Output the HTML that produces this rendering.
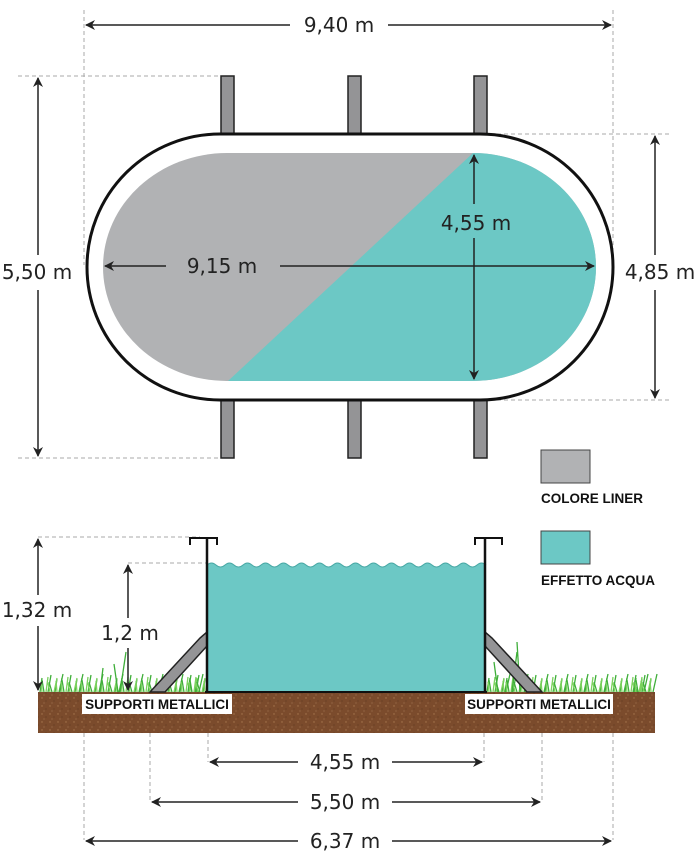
<!DOCTYPE html>
<html><head><meta charset="utf-8"><style>
html,body{margin:0;padding:0;background:#fff;}
svg{display:block;}
.t{font-family:"DejaVu Sans","Liberation Sans",sans-serif;font-size:20px;fill:#222;}
.b{font-family:"Liberation Sans",sans-serif;font-size:13.5px;font-weight:bold;fill:#111;}
</style></head><body>
<svg width="700" height="858" viewBox="0 0 700 858" xmlns="http://www.w3.org/2000/svg">
<defs>
<marker id="a" viewBox="0 0 10 10" refX="9" refY="5" markerWidth="10" markerHeight="10" markerUnits="userSpaceOnUse" orient="auto-start-reverse">
<path d="M0,0 L10,5 L0,10 L3,5 Z" fill="#222"/></marker>
<pattern id="soil" width="8" height="8" patternUnits="userSpaceOnUse">
<rect width="8" height="8" fill="#7b4b2c"/><circle cx="2" cy="2" r="0.7" fill="#a8784f"/><circle cx="6" cy="5" r="0.6" fill="#5e3720"/><circle cx="4" cy="7" r="0.5" fill="#b08660"/></pattern>
<g id="grass" fill="none" stroke-width="1.3">
<path stroke="#3fae3a" d="M0,20 l2,-14 M4,20 l-2,-12 M8,20 l3,-17 M12,20 l-3,-10 M15,20 l2,-13 M19,20 l4,-18"/>
<path stroke="#7bd25e" d="M2,20 l-1,-10 M6,20 l2,-15 M10,20 l-2,-9 M14,20 l3,-14 M17,20 l-1,-11"/>
</g>
</defs>
<g stroke="#aaa" stroke-width="1" stroke-dasharray="4,3" fill="none">
<line x1="84" y1="10" x2="84" y2="265"/><line x1="613" y1="10" x2="613" y2="265"/>
<line x1="18" y1="76" x2="222" y2="76"/><line x1="18" y1="458" x2="222" y2="458"/>
<line x1="490" y1="134" x2="672" y2="134"/><line x1="490" y1="400" x2="672" y2="400"/>
<line x1="38" y1="537" x2="200" y2="537"/><line x1="128" y1="563" x2="207" y2="563"/>
<line x1="84" y1="733" x2="84" y2="840"/><line x1="613" y1="733" x2="613" y2="840"/>
<line x1="150" y1="733" x2="150" y2="802"/><line x1="542" y1="733" x2="542" y2="802"/>
<line x1="208" y1="733" x2="208" y2="762"/><line x1="484" y1="733" x2="484" y2="762"/>
</g>
<g fill="#949496" stroke="#222" stroke-width="1.5">
<rect x="221" y="76" width="13" height="60"/><rect x="348" y="76" width="13" height="60"/><rect x="474" y="76" width="13" height="60"/>
<rect x="221" y="398" width="13" height="60"/><rect x="348" y="398" width="13" height="60"/><rect x="474" y="398" width="13" height="60"/>
</g>
<path d="M220,134 L480,134 A133,133 0 0 1 480,400 L220,400 A133,133 0 0 1 220,134 Z" fill="#fff" stroke="#111" stroke-width="3"/>
<path d="M227,153 L473,153 A123,114 0 0 1 473,381 L227,381 A124,114 0 0 1 227,153 Z" fill="#b1b2b4"/>
<path d="M473,153 A123,114 0 0 1 473,381 L228,381 Z" fill="#6cc8c5"/>
<g stroke="#222" stroke-width="1.5" fill="none">
<line x1="86" y1="25" x2="290" y2="25" marker-start="url(#a)"/><line x1="388" y1="25" x2="611" y2="25" marker-end="url(#a)"/>
<line x1="38" y1="78" x2="38" y2="255" marker-start="url(#a)"/><line x1="38" y1="290" x2="38" y2="456" marker-end="url(#a)"/>
<line x1="655" y1="136" x2="655" y2="255" marker-start="url(#a)"/><line x1="655" y1="290" x2="655" y2="398" marker-end="url(#a)"/>
<line x1="105" y1="266" x2="166" y2="266" marker-start="url(#a)"/><line x1="280" y1="266" x2="594" y2="266" marker-end="url(#a)"/>
<line x1="474" y1="155" x2="474" y2="204" marker-start="url(#a)"/><line x1="474" y1="238" x2="474" y2="379" marker-end="url(#a)"/>
</g>
<text class="t" x="339" y="32" text-anchor="middle">9,40 m</text>
<text class="t" x="37" y="279" text-anchor="middle">5,50 m</text>
<text class="t" x="660" y="279" text-anchor="middle">4,85 m</text>
<text class="t" x="222" y="273" text-anchor="middle">9,15 m</text>
<text class="t" x="476" y="230" text-anchor="middle">4,55 m</text>
<rect x="541" y="450" width="49" height="33" fill="#b1b2b4" stroke="#444" stroke-width="1"/>
<text class="b" x="541" y="503">COLORE LINER</text>
<rect x="541" y="531" width="49" height="33" fill="#6cc8c5" stroke="#444" stroke-width="1"/>
<text class="b" x="541" y="585">EFFETTO ACQUA</text>
<use href="#grass" x="40" y="672"/><use href="#grass" x="60" y="672"/><use href="#grass" x="80" y="672"/><use href="#grass" x="100" y="672"/><use href="#grass" x="120" y="672"/><use href="#grass" x="140" y="672"/><use href="#grass" x="160" y="672"/><use href="#grass" x="180" y="672"/><use href="#grass" x="188" y="672"/>
<use href="#grass" x="487" y="672"/><use href="#grass" x="505" y="672"/><use href="#grass" x="525" y="672"/><use href="#grass" x="545" y="672"/><use href="#grass" x="565" y="672"/><use href="#grass" x="585" y="672"/><use href="#grass" x="605" y="672"/><use href="#grass" x="625" y="672"/><use href="#grass" x="634" y="672"/>
<g stroke="#3fae3a" stroke-width="1.3" fill="none">
<path d="M120,692 l6,-40 M118,692 l-4,-28 M512,692 l5,-40 M520,692 l-3,-50 M498,692 l-4,-30 M100,692 l3,-24"/>
</g>
<rect x="38" y="692" width="617" height="41" fill="url(#soil)"/>
<path d="M207,565 q4.5,-4 9,0 t9,0 t9,0 t9,0 t9,0 t9,0 t9,0 t9,0 t9,0 t9,0 t9,0 t9,0 t9,0 t9,0 t9,0 t9,0 t9,0 t9,0 t9,0 t9,0 t9,0 t9,0 t9,0 t9,0 t9,0 t9,0 t9,0 t9,0 t9,0 t9,0 t9,0 L485,565 L485,692 L207,692 Z" fill="#6cc8c5"/>
<path d="M207,565 q4.5,-4 9,0 t9,0 t9,0 t9,0 t9,0 t9,0 t9,0 t9,0 t9,0 t9,0 t9,0 t9,0 t9,0 t9,0 t9,0 t9,0 t9,0 t9,0 t9,0 t9,0 t9,0 t9,0 t9,0 t9,0 t9,0 t9,0 t9,0 t9,0 t9,0 t9,0 t9,0" fill="none" stroke="#4aa9a6" stroke-width="1"/>
<path d="M150,692 L200,638 L207,632 L207,646 L165,692 Z" fill="#949496" stroke="#222" stroke-width="1.5"/>
<path d="M542,692 L492,638 L485,632 L485,646 L527,692 Z" fill="#949496" stroke="#222" stroke-width="1.5"/>
<g stroke="#111" stroke-width="2.5" fill="none">
<line x1="207" y1="538" x2="207" y2="692"/><path d="M190,545 L190,538 L217,538 L217,545" stroke-width="2"/>
<line x1="485" y1="538" x2="485" y2="692"/><path d="M475,545 L475,538 L502,538 L502,545" stroke-width="2"/>
<line x1="205" y1="692" x2="487" y2="692" stroke-width="2"/>
</g>
<rect x="82" y="694" width="150" height="20" fill="#fff"/>
<text class="b" x="157" y="709" text-anchor="middle">SUPPORTI METALLICI</text>
<rect x="465" y="694" width="148" height="20" fill="#fff"/>
<text class="b" x="539" y="709" text-anchor="middle">SUPPORTI METALLICI</text>
<g stroke="#222" stroke-width="1.5" fill="none">
<line x1="38" y1="539" x2="38" y2="595" marker-start="url(#a)"/><line x1="38" y1="626" x2="38" y2="690" marker-end="url(#a)"/>
<line x1="128" y1="565" x2="128" y2="618" marker-start="url(#a)"/><line x1="128" y1="648" x2="128" y2="690" marker-end="url(#a)"/>
<line x1="210" y1="762" x2="298" y2="762" marker-start="url(#a)"/><line x1="392" y1="762" x2="482" y2="762" marker-end="url(#a)"/>
<line x1="152" y1="802" x2="298" y2="802" marker-start="url(#a)"/><line x1="392" y1="802" x2="540" y2="802" marker-end="url(#a)"/>
<line x1="86" y1="841" x2="298" y2="841" marker-start="url(#a)"/><line x1="392" y1="841" x2="611" y2="841" marker-end="url(#a)"/>
</g>
<text class="t" x="37" y="617" text-anchor="middle">1,32 m</text>
<text class="t" x="130" y="640" text-anchor="middle">1,2 m</text>
<text class="t" x="345" y="769" text-anchor="middle">4,55 m</text>
<text class="t" x="345" y="809" text-anchor="middle">5,50 m</text>
<text class="t" x="345" y="848" text-anchor="middle">6,37 m</text>
</svg>
</body></html>
